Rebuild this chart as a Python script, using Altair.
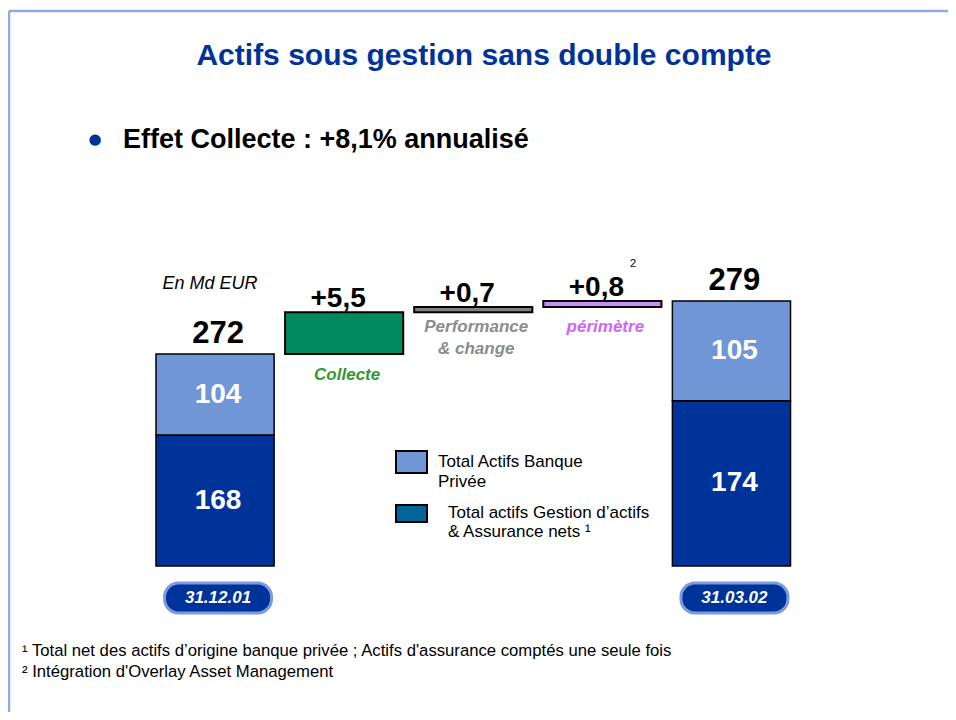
import altair as alt
import pandas as pd

# ---------------- data ----------------
categories = ["31.12.01", "Collecte", "Performance & change", "périmètre", "31.03.02"]
date_cats = ["31.12.01", "31.03.02"]
asset_mgmt = [168, 174]      # Total actifs Gestion d'actifs & Assurance nets
private_bank = [104, 105]    # Total Actifs Banque Privée
totals = [272, 279]

step_cats = ["Collecte", "Performance & change", "périmètre"]
step_values = [5.5, 0.7, 0.8]
step_labels = ["+5,5", "+0,7", "+0,8"]
step_colors = ["#008a5e", "#808080", "#cc8cf5"]

segment_names = ["Total actifs Gestion d'actifs & Assurance nets", "Total Actifs Banque Privée"]
segment_colors = ["#003399", "#7096d6"]

# display break of the (truncated) value axis
AXIS_BREAK = 244

# ---------------- tables ----------------
stack_rows = []
for cat, am, pb, tot in zip(date_cats, asset_mgmt, private_bank, totals):
    split = AXIS_BREAK + (tot - AXIS_BREAK) * am / tot
    stack_rows.append(dict(cat=cat, seg=segment_names[0], y0=AXIS_BREAK, y1=split, val=am))
    stack_rows.append(dict(cat=cat, seg=segment_names[1], y0=split, y1=tot, val=pb))
stack_df = pd.DataFrame(stack_rows)
stack_df["mid"] = (stack_df["y0"] + stack_df["y1"]) / 2

tot_df = pd.DataFrame(dict(cat=date_cats, total=totals, txt=[str(t) for t in totals]))

steps = []
level = totals[0]
for cat, v, lab, col in zip(step_cats, step_values, step_labels, step_colors):
    steps.append(dict(cat=cat, ys=level, ye=level + v, lab=lab, col=col))
    level += v
step_df = pd.DataFrame(steps)

dummy = pd.DataFrame({"a": [0]})

W, H = 940, 704
xscale = alt.Scale(domain=categories, range=[142.5, 788], paddingInner=0.085, paddingOuter=0.0425)
yscale = alt.Scale(domain=[AXIS_BREAK, totals[1]], range=[558, 293], zero=False, nice=False)
X = alt.X("cat:N", scale=xscale, axis=None)

SANS = "Liberation Sans, Arial, sans-serif"
NARROW = "'Liberation Sans Narrow', 'Liberation Sans', Arial, sans-serif"


def txt(text, x, y, size, color="black", weight="normal", style="normal",
        align="left", baseline="middle", font=SANS):
    return alt.Chart(dummy).mark_text(
        text=text, fontSize=size, color=color, fontWeight=weight, fontStyle=style,
        align=align, baseline=baseline, font=font
    ).encode(x=alt.value(x), y=alt.value(y))


def cat_txt(cat, text, y, size, color, weight="bold", style="italic"):
    return alt.Chart(dummy).mark_text(
        text=text, fontSize=size, color=color, fontWeight=weight, fontStyle=style,
        align="center", baseline="middle", font=NARROW, dx=3
    ).encode(x=alt.X(datum=cat, type="nominal", scale=xscale, axis=None), y=alt.value(y))


# ---------------- layers ----------------
border_top = alt.Chart(dummy).mark_rule(color="#8eaae0", strokeWidth=2.5).encode(
    x=alt.value(1), x2=alt.value(W), y=alt.value(3))
border_left = alt.Chart(dummy).mark_rule(color="#8eaae0", strokeWidth=2.5).encode(
    x=alt.value(1), y=alt.value(3), y2=alt.value(H))

stack = alt.Chart(stack_df).mark_bar(stroke="black", strokeWidth=1.5).encode(
    x=X,
    y=alt.Y("y0:Q", scale=yscale, axis=None),
    y2="y1:Q",
    color=alt.Color("seg:N", scale=alt.Scale(domain=segment_names, range=segment_colors), legend=None),
)
inner = alt.Chart(stack_df).mark_text(
    color="white", fontSize=28, fontWeight="bold", font=SANS, dx=3, baseline="middle"
).encode(x=X, y=alt.Y("mid:Q", scale=yscale, axis=None), text="val:Q")

tot_lab = alt.Chart(tot_df).mark_text(
    color="black", fontSize=31, fontWeight="bold", font=SANS, dy=-11, dx=3, baseline="alphabetic"
).encode(x=X, y=alt.Y("total:Q", scale=yscale, axis=None), text="txt:N")

step_bars = alt.Chart(step_df).mark_bar(stroke="black", strokeWidth=2).encode(
    x=X,
    y=alt.Y("ys:Q", scale=yscale, axis=None),
    y2="ye:Q",
    color=alt.Color("col:N", scale=None),
)
step_lab = alt.Chart(step_df).mark_text(
    color="black", fontSize=28, fontWeight="bold", font=SANS, dy=-5, dx=-6, baseline="alphabetic"
).encode(x=X, y=alt.Y("ye:Q", scale=yscale, axis=None), text="lab:N")

badge = alt.Chart(pd.DataFrame(dict(cat=date_cats))).mark_bar(
    width=107, cornerRadius=14, fill="#003399", stroke="#7b9be0", strokeWidth=3, xOffset=3
).encode(x=X, y=alt.value(575), y2=alt.value(605))
badge_txt = alt.Chart(pd.DataFrame(dict(cat=date_cats))).mark_text(
    color="white", fontSize=17, fontWeight="bold", fontStyle="italic", font=SANS,
    baseline="middle", dx=3
).encode(x=X, y=alt.value(590), text="cat:N")

leg_sq1 = alt.Chart(dummy).mark_rect(fill="#7096d6", stroke="black", strokeWidth=2).encode(
    x=alt.value(388), x2=alt.value(419), y=alt.value(443), y2=alt.value(465))
leg_sq2 = alt.Chart(dummy).mark_rect(fill="#00669a", stroke="black", strokeWidth=2).encode(
    x=alt.value(388), x2=alt.value(419), y=alt.value(497), y2=alt.value(514))

layers = [
    border_top, border_left,
    txt("Actifs sous gestion sans double compte", 476, 57, 30, "#003399", "bold",
        align="center", baseline="alphabetic"),
    txt("●", 87, 131, 15, "#003399", align="center", font="DejaVu Sans"),
    txt("Effet Collecte : +8,1% annualisé", 115, 140, 27, "black", "bold", baseline="alphabetic"),
    txt("En Md EUR", 202, 276, 18, "black", style="italic", align="center"),
    txt("2", 625, 256, 11, "black", align="center"),
    stack, inner, tot_lab, step_bars, step_lab,
    cat_txt("Collecte", "Collecte", 367, 17, "#339933"),
    cat_txt("Performance & change", "Performance", 319, 17, "#8c8c8c"),
    cat_txt("Performance & change", "& change", 341, 17, "#8c8c8c"),
    cat_txt("périmètre", "périmètre", 319, 17, "#cc66ff"),
    badge, badge_txt,
    leg_sq1, leg_sq2,
    txt("Total Actifs Banque", 430, 454, 17),
    txt("Privée", 430, 474, 17),
    txt("Total actifs Gestion d’actifs", 440, 505, 17),
    txt("& Assurance nets ¹", 440, 524, 17),
    txt("¹ Total net des actifs d’origine banque privée ;  Actifs d'assurance comptés une seule fois",
        14, 643, 16.7),
    txt("² Intégration d'Overlay Asset Management", 14, 664, 16.7),
]

chart = alt.layer(*layers).properties(
    width=W, height=H, autosize=alt.AutoSizeParams(type="none"), padding=0
).configure_view(stroke=None)

chart.save("out.html", embed_options={"renderer": "svg", "actions": False})
